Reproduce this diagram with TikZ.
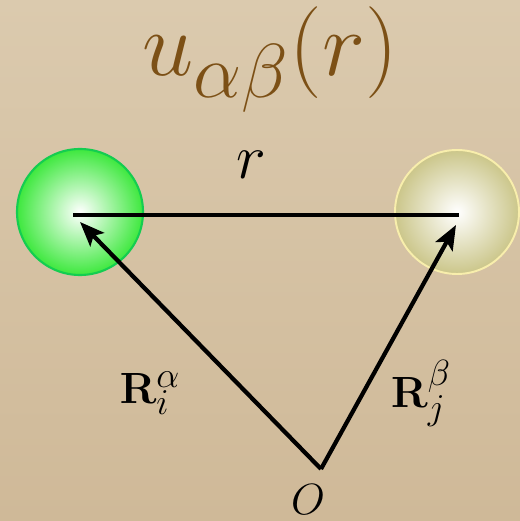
\documentclass[tikz,border=0pt]{standalone}
\usepackage{graphicx}
\usetikzlibrary{arrows.meta}
\definecolor{bgtop}{RGB}{219,202,174}
\definecolor{bgbot}{RGB}{207,185,152}
\definecolor{titlebrown}{RGB}{124,80,22}
\definecolor{greenout}{RGB}{62,232,62}
\definecolor{greenrim}{RGB}{20,205,80}
\definecolor{oliveout}{RGB}{203,198,138}
\definecolor{oliverim}{RGB}{248,238,172}
\newcommand{\subab}{\mbox{\fontsize{20.74}{24}\selectfont$\alpha\beta$}}
\tikzset{
  vec/.style={line width=2.4pt, -{Stealth[length=14pt,width=11pt,inset=3pt]}},
  bond/.style={line width=2.4pt},
  lab/.style={inner sep=0pt, font=\Huge},
}
\begin{document}
\begin{tikzpicture}[x=0.02cm,y=0.02cm]
  \useasboundingbox (0,0) rectangle (520,521);
  \shade[top color=bgtop, bottom color=bgbot] (0,0) rectangle (520,521);
  \shade[inner color=white, outer color=greenout] (80,309) circle (63);
  \draw[greenrim, line width=1.2pt] (80,309) circle (63);
  \shade[inner color=white, outer color=oliveout] (457,309) circle (62);
  \draw[oliverim, line width=1.1pt] (457,309) circle (62);
  \node[lab, text=titlebrown, anchor=base] (ttl) at (270,445) {\scalebox{2.1}{$u_{\subab}(r)$}};
  \coordinate (A) at (73,306);
  \coordinate (B) at (459,306);
  \coordinate (O) at (321,52);
  \coordinate (tA) at (80,299);
  \coordinate (tB) at (456,296);
  \draw[bond] (A) -- (B);
  \draw[vec] (O) -- (tA);
  \draw[vec] (O) -- (tB);
  \node[lab] (rlab) at (251,356) {\scalebox{1.45}{$r$}};
  \node[lab] (Ri) at (150,128) {$\mathbf{R}_i^{\alpha}$};
  \node[lab] (Rj) at (421,128) {$\mathbf{R}_j^{\beta}$};
  \node[lab] (Olab) at (308,21) {$O$};
\end{tikzpicture}
\end{document}
